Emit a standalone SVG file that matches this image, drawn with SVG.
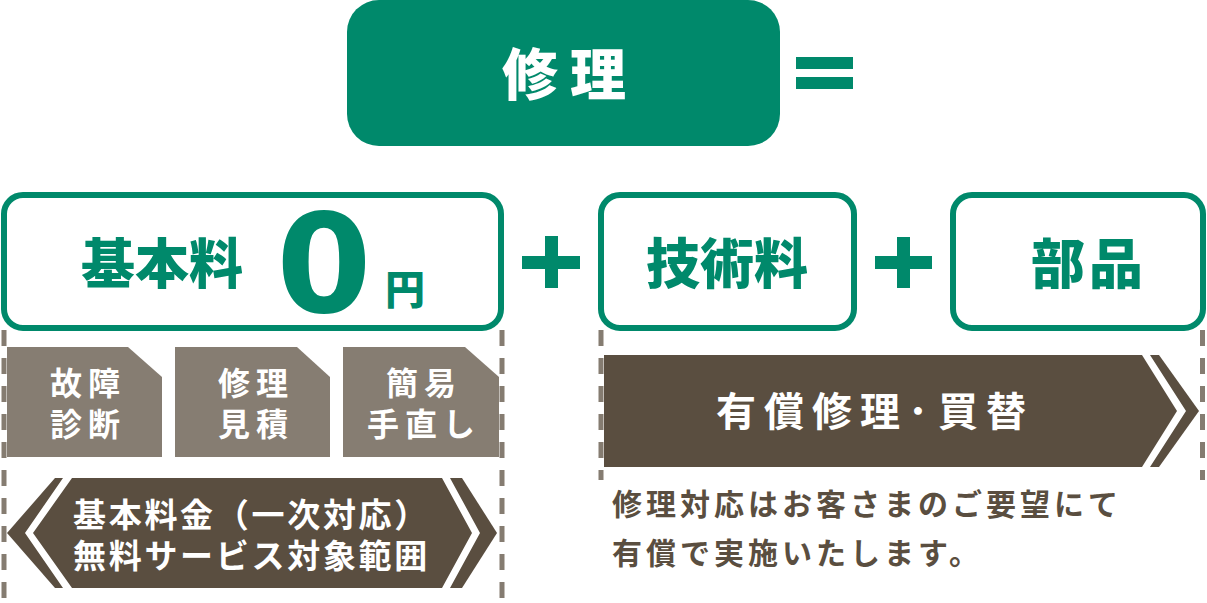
<svg xmlns="http://www.w3.org/2000/svg" width="1207" height="603" viewBox="0 0 1207 603">
  <style>
    .jp { font-family: 'Noto Sans CJK JP', 'Noto Sans', sans-serif; }
    .box { fill: #ffffff; stroke: #00896b; stroke-width: 6; }
    .green { fill: #00896b; }
    .tab { fill: #867d72; }
    .dark { fill: #5a4e40; }
    .white { fill: #ffffff; }
    .gtitle { font-family: 'Noto Sans CJK JP', sans-serif; font-weight: 900; font-size: 54px; fill: #00896b; text-anchor: middle; }
    .tabtxt { font-family: 'Noto Sans CJK JP', sans-serif; font-weight: 700; font-size: 32px; fill: #ffffff; text-anchor: middle; letter-spacing: 6px; }
    .guide { fill: none; stroke: #857c71; stroke-width: 5; stroke-dasharray: 16 12; }
  </style>

  <g id="connectors">
    <line class="guide" x1="4" y1="330" x2="4" y2="603"/>
    <line class="guide" x1="502" y1="330" x2="502" y2="603"/>
    <line class="guide" x1="601" y1="330" x2="601" y2="480"/>
    <line class="guide" x1="1202.5" y1="330" x2="1202.5" y2="480"/>
  </g>

  <g id="node-repair">
    <rect x="347" y="0" width="433" height="146" rx="32" class="green"/>
    <text x="570" y="95" class="jp" font-weight="900" font-size="56" fill="#ffffff" text-anchor="middle" letter-spacing="12">修理</text>
  </g>

  <g id="op-equals">
    <rect x="796" y="57" width="57" height="12" class="green"/>
    <rect x="796" y="77" width="57" height="12" class="green"/>
  </g>

  <g id="node-basic">
    <rect x="4" y="195" width="497" height="133" rx="19" class="box"/>
    <text x="162" y="283.5" class="gtitle">基本料</text>
    <text x="324" y="312" font-family="'DejaVu Sans', 'Noto Sans', sans-serif" font-weight="700" font-size="137" fill="#00896b" text-anchor="middle">0</text>
    <text x="405" y="304" class="jp" font-weight="900" font-size="40" fill="#00896b" text-anchor="middle">円</text>
  </g>

  <g id="op-plus-1">
    <rect x="522" y="256" width="58" height="13" class="green"/>
    <rect x="545" y="236" width="13" height="52" class="green"/>
  </g>

  <g id="node-tech">
    <rect x="601" y="195" width="253" height="133" rx="19" class="box"/>
    <text x="727" y="284" class="gtitle">技術料</text>
  </g>

  <g id="op-plus-2">
    <rect x="875" y="256" width="57" height="13" class="green"/>
    <rect x="897" y="237" width="13" height="51" class="green"/>
  </g>

  <g id="node-parts">
    <rect x="953" y="195" width="250" height="133" rx="19" class="box"/>
    <text x="1089" y="284" class="gtitle" letter-spacing="4">部品</text>
  </g>

  <g id="node-diagnosis">
    <polygon points="7,347 128,347 162,377 162,457 7,457" class="tab"/>
    <text class="tabtxt" x="88" y="395">故障</text>
    <text class="tabtxt" x="88" y="436">診断</text>
  </g>

  <g id="node-estimate">
    <polygon points="175,347 297,347 330,377 330,457 175,457" class="tab"/>
    <text class="tabtxt" x="256" y="395">修理</text>
    <text class="tabtxt" x="256" y="436">見積</text>
  </g>

  <g id="node-simple-fix">
    <polygon points="343,347 465,347 499,377 499,457 343,457" class="tab"/>
    <text class="tabtxt" x="424" y="395">簡易</text>
    <text class="tabtxt" x="424" y="436">手直し</text>
  </g>

  <g id="node-free-scope">
    <polygon points="7,533 55,478 462,478 497,533 462,588 55,588" class="dark"/>
    <polygon points="63,478 72,478 33,533 72,588 63,588 25,533" class="white"/>
    <polygon points="442,478 450,478 480,533 450,588 442,588 472,533" class="white"/>
    <text x="73" y="526.5" class="jp" font-weight="700" font-size="33" fill="#ffffff" letter-spacing="2.7">基本料金（一次対応）</text>
    <text x="73" y="567.5" class="jp" font-weight="700" font-size="33" fill="#ffffff" letter-spacing="2.7">無料サービス対象範囲</text>
  </g>

  <g id="node-paid">
    <polygon points="604,355 1159,355 1199,411 1159,467 604,467" class="dark"/>
    <polygon points="1142,355 1150,355 1186,411 1150,467 1142,467 1177,411" class="white"/>
    <text class="jp" font-weight="700" font-size="40" fill="#ffffff" y="426"><tspan x="716" letter-spacing="8">有償修理</tspan><tspan x="908">･</tspan><tspan x="938" letter-spacing="8">買替</tspan></text>
  </g>

  <g id="note">
    <text x="612" y="515" class="jp" font-weight="700" font-size="30" fill="#5a4e40" letter-spacing="4">修理対応はお客さまのご要望にて</text>
    <text x="612" y="564" class="jp" font-weight="700" font-size="30" fill="#5a4e40" letter-spacing="4">有償で実施いたします。</text>
  </g>
</svg>
